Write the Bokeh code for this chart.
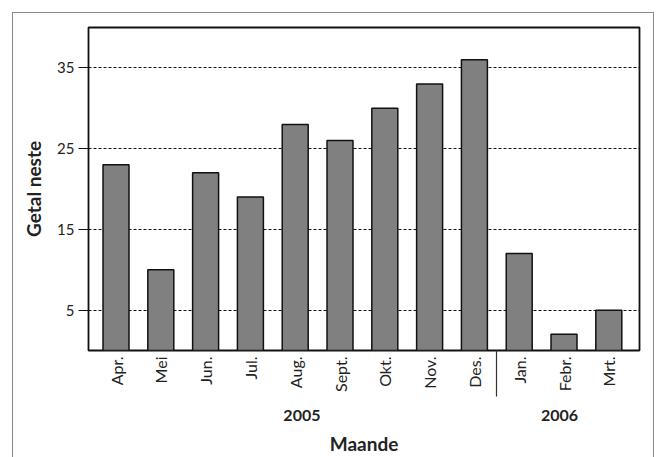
import numpy as np
from bokeh.plotting import figure
from bokeh.models import ColumnDataSource, Range1d, FixedTicker, LinearAxis
from bokeh.embed import file_html
from bokeh.resources import INLINE

months = ["Apr.", "Mei", "Jun.", "Jul.", "Aug.", "Sept.", "Okt.", "Nov.", "Des.", "Jan.", "Febr.", "Mrt."]
nests = [23, 10, 22, 19, 28, 26, 30, 33, 36, 12, 2, 5]
years = ["2005", "2006"]
year_counts = [9, 3]
year_label_x = [5.15, 10.9]
y_ticks = [5, 15, 25, 35]

FONT = "Lato"
TXT = "#222222"
xpos = list(range(1, len(months) + 1))
src = ColumnDataSource(dict(x=xpos, top=nests, m=months))

W, H = 660, 457
p = figure(width=W, height=H, output_backend="svg", toolbar_location=None,
           x_range=Range1d(0.386, 12.685), y_range=Range1d(0, 40),
           min_border_left=88, min_border_top=27, min_border_right=W - 639,
           min_border_bottom=H - 351)
p.outline_line_color = "#111111"
p.outline_line_width = 1.8
p.background_fill_color = "white"
p.border_fill_color = None
p.styles = {
    "background-color": "white",
    "background-image": ("linear-gradient(#8a8a8a,#8a8a8a), linear-gradient(#8a8a8a,#8a8a8a), "
                         "linear-gradient(#8a8a8a,#8a8a8a)"),
    "background-size": "1.3px 100%, 1.3px 100%, 642px 1.3px",
    "background-position": "12px 12px, 653px 12px, 12px 12px",
    "background-repeat": "no-repeat",
}

p.vbar(x="x", top="top", width=0.58, bottom=0, source=src,
       fill_color="#808080", line_color="#111111", line_width=1.5)

# y axis
p.yaxis.ticker = FixedTicker(ticks=y_ticks)
p.yaxis.minor_tick_line_color = None
p.yaxis.major_tick_out = 10
p.yaxis.major_tick_in = 0
p.yaxis.major_tick_line_color = "#111111"
p.yaxis.axis_line_color = None
p.yaxis.major_label_standoff = 4
p.yaxis.major_label_text_font = FONT
p.yaxis.major_label_text_font_size = "15px"
p.yaxis.major_label_text_color = TXT
p.yaxis.axis_label = "Getal neste"
p.yaxis.axis_label_text_font = FONT
p.yaxis.axis_label_text_font_style = "bold"
p.yaxis.axis_label_text_font_size = "19px"
p.yaxis.axis_label_text_color = TXT
p.yaxis.axis_label_standoff = 9

# x axis with months; separator between years as a minor tick
sep_x = year_counts[0] + 0.5
p.xaxis.ticker = FixedTicker(ticks=xpos, minor_ticks=[sep_x])
p.xaxis.major_label_overrides = {x: m for x, m in zip(xpos, months)}
p.xaxis.major_label_orientation = np.pi / 2
p.xaxis.major_tick_out = 0
p.xaxis.major_tick_in = 0
p.xaxis.major_tick_line_color = None
p.xaxis.minor_tick_out = 46
p.xaxis.minor_tick_in = 0
p.xaxis.minor_tick_line_color = "#333333"
p.xaxis.minor_tick_line_width = 1.2
p.xaxis.axis_line_color = None
p.xaxis.major_label_standoff = -40
p.xaxis.major_label_text_font = FONT
p.xaxis.major_label_text_font_size = "16px"
p.xaxis.major_label_text_color = TXT

# second x axis with years and the title
yax = LinearAxis(ticker=FixedTicker(ticks=year_label_x),
                 major_label_overrides={x: y for x, y in zip(year_label_x, years)})
yax.axis_line_color = None
yax.major_tick_line_color = None
yax.minor_tick_line_color = None
yax.major_tick_out = 0
yax.major_tick_in = 0
yax.major_label_standoff = 15
yax.major_label_text_font = FONT
yax.major_label_text_font_style = "bold"
yax.major_label_text_font_size = "16px"
yax.major_label_text_color = TXT
yax.axis_label = "Maande"
yax.axis_label_text_font = FONT
yax.axis_label_text_font_style = "bold"
yax.axis_label_text_font_size = "19px"
yax.axis_label_text_color = TXT
yax.axis_label_standoff = 8
p.add_layout(yax, "below")

# grid
p.xgrid.grid_line_color = None
p.ygrid.ticker = FixedTicker(ticks=y_ticks)
p.ygrid.grid_line_color = "#111111"
p.ygrid.grid_line_dash = "3 2"
p.ygrid.grid_line_width = 1

open("out.html", "w").write(file_html(p, INLINE))
